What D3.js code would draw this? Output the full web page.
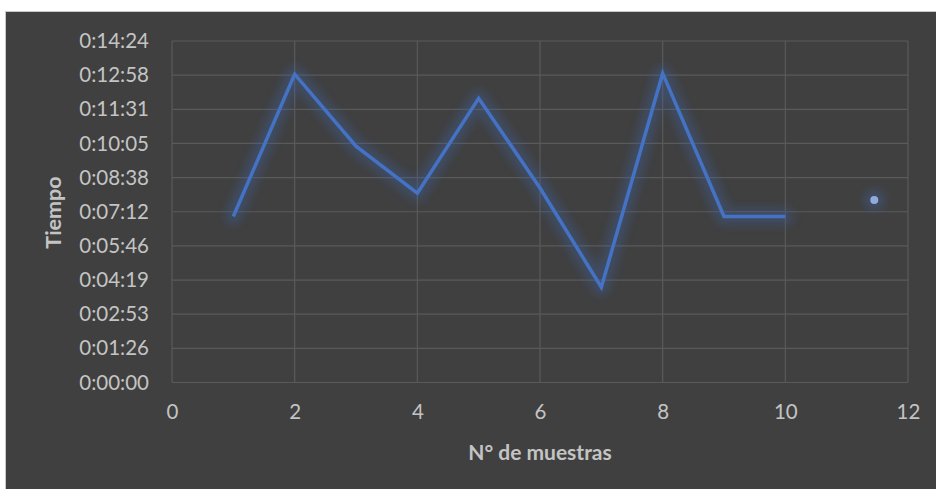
<!DOCTYPE html>
<html>
<head>
<meta charset="utf-8">
<script src="https://cdn.jsdelivr.net/npm/d3@7"></script>
<style>
  body { margin: 0; background: #fff; }
  svg { display: block; }
</style>
</head>
<body>
<div id="chart"></div>
<script>
// muestras y tiempos (segundos)
const samples = [1, 2, 3, 4, 5, 6, 7, 8, 9, 10];
const times = [420, 780, 598, 479, 719, 492, 241, 782, 420, 420];
// punto suelto a la derecha
const extraPoint = [{ x: 11.45, t: 462 }];

const xTicks = [0, 2, 4, 6, 8, 10, 12];
const yTickValues = [0, 86.4, 172.8, 259.2, 345.6, 432, 518.4, 604.8, 691.2, 777.6, 864];
const yTickLabels = ["0:00:00", "0:01:26", "0:02:53", "0:04:19", "0:05:46", "0:07:12",
    "0:08:38", "0:10:05", "0:11:31", "0:12:58", "0:14:24"];

const W = 936, H = 489;
const margin = { top: 41, right: 28, bottom: 106.5, left: 172 };
const width = W - margin.left - margin.right;
const height = H - margin.top - margin.bottom;

const root = d3.select("#chart").append("svg")
    .attr("width", W)
    .attr("height", H);

const defs = root.append("defs");
const glow = defs.append("filter").attr("id", "glow")
    .attr("x", "-20%").attr("y", "-20%").attr("width", "140%").attr("height", "140%");
glow.append("feGaussianBlur").attr("stdDeviation", 5);

// fondo
root.append("rect")
    .attr("x", 5.5).attr("y", 11.5)
    .attr("width", W).attr("height", H)
    .attr("fill", "#404040")
    .attr("stroke", "#c9c9c9")
    .attr("stroke-width", 1);

const svg = root.append("g")
    .attr("transform", `translate(${margin.left},${margin.top})`);

const x = d3.scaleLinear().domain([0, 12]).range([0, width]);
const y = d3.scaleLinear().domain([0, 864]).range([height, 0]);

const font = "Lato, 'Open Sans', sans-serif";
const textColor = "#c4c4c4";
const gridColor = "#5a5a5a";

// grid
svg.append("g")
    .selectAll("line")
    .data(yTickValues)
    .enter().append("line")
    .attr("x1", 0).attr("x2", width)
    .attr("y1", d => y(d)).attr("y2", d => y(d))
    .attr("stroke", gridColor)
    .attr("stroke-width", 1.2);

svg.append("g")
    .selectAll("line")
    .data(xTicks)
    .enter().append("line")
    .attr("x1", d => x(d)).attr("x2", d => x(d))
    .attr("y1", 0).attr("y2", height)
    .attr("stroke", gridColor)
    .attr("stroke-width", 1.2);

// axes
const yAxis = svg.append("g")
    .call(d3.axisLeft(y).tickValues(yTickValues).tickFormat((d, i) => yTickLabels[i]).tickSize(0).tickPadding(23));
yAxis.select(".domain").remove();
yAxis.selectAll("text")
    .attr("fill", textColor)
    .style("font-family", font)
    .style("font-size", "20.5px");

const xAxis = svg.append("g")
    .attr("transform", `translate(0,${height})`)
    .call(d3.axisBottom(x).tickValues(xTicks).tickSize(0).tickPadding(22));
xAxis.select(".domain").remove();
xAxis.selectAll("text")
    .attr("fill", textColor)
    .style("font-family", font)
    .style("font-size", "20.5px");

// titles
svg.append("text")
    .attr("x", x(6))
    .attr("y", height + 77)
    .attr("text-anchor", "middle")
    .attr("fill", textColor)
    .style("font-family", font)
    .style("font-size", "21px")
    .style("font-weight", "bold")
    .text("N° de muestras");

svg.append("text")
    .attr("transform", `translate(${54 - margin.left + 7},${212.5 - margin.top}) rotate(-90)`)
    .attr("text-anchor", "middle")
    .attr("fill", textColor)
    .style("font-family", font)
    .style("font-size", "21.5px")
    .style("font-weight", "bold")
    .text("Tiempo");

// line
const data = samples.map((s, i) => ({ x: s, t: times[i] }));
const line = d3.line().x(d => x(d.x)).y(d => y(d.t));

svg.append("path")
    .datum(data)
    .attr("d", line)
    .attr("fill", "none")
    .attr("stroke", "#3f63a8")
    .attr("stroke-opacity", 0.35)
    .attr("stroke-width", 16)
    .attr("stroke-linejoin", "round")
    .attr("stroke-linecap", "round")
    .attr("filter", "url(#glow)");

svg.append("path")
    .datum(data)
    .attr("d", line)
    .attr("fill", "none")
    .attr("stroke", "#4472c4")
    .attr("stroke-width", 3.5)
    .attr("stroke-linejoin", "miter");

// extra point
svg.selectAll(".glowdot")
    .data(extraPoint)
    .enter().append("circle")
    .attr("cx", d => x(d.x)).attr("cy", d => y(d.t))
    .attr("r", 10)
    .attr("fill", "#3f63a8")
    .attr("fill-opacity", 0.4)
    .attr("filter", "url(#glow)");

svg.selectAll(".dot")
    .data(extraPoint)
    .enter().append("circle")
    .attr("cx", d => x(d.x)).attr("cy", d => y(d.t))
    .attr("r", 4)
    .attr("fill", "#8faadc");
</script>
</body>
</html>
